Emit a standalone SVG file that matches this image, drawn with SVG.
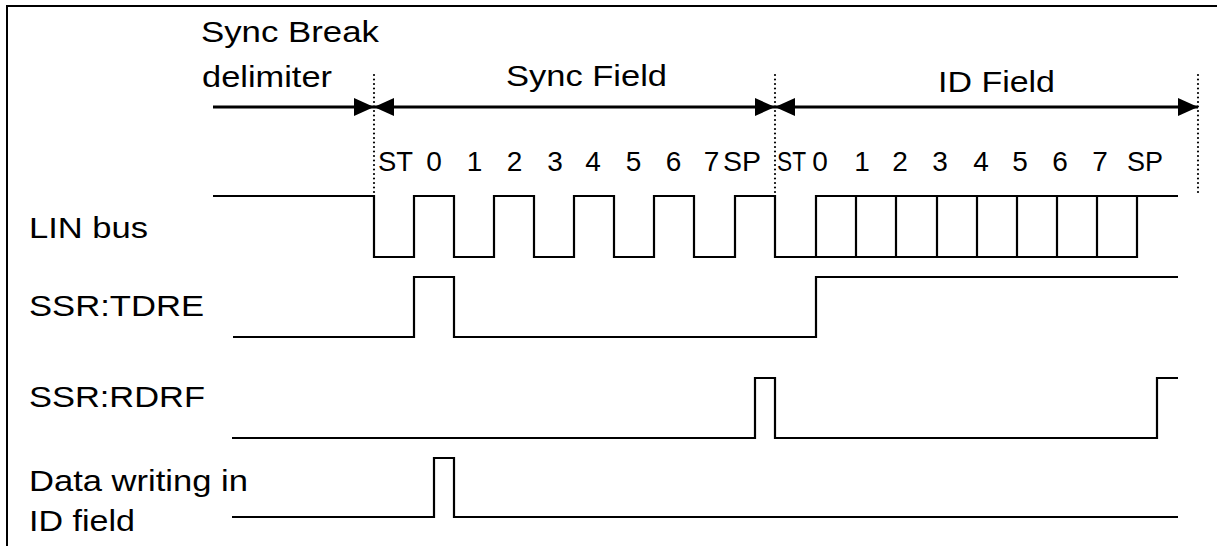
<svg xmlns="http://www.w3.org/2000/svg" width="1217" height="546" viewBox="0 0 1217 546">
<style>
text{font-family:"Liberation Sans",Arial,sans-serif;fill:#000}
.lb{font-size:30px}
.bit{font-size:28px}
.wave{fill:none;stroke:#000;stroke-width:2.2;stroke-linejoin:miter}
.dim{fill:none;stroke:#000;stroke-width:3}
.dot{fill:none;stroke:#000;stroke-width:2.2;stroke-linecap:round;stroke-dasharray:0 4.5}
.frame{fill:none;stroke:#000;stroke-width:2}
</style>
<defs>
<marker id="ah" markerUnits="userSpaceOnUse" markerWidth="20" markerHeight="18" refX="20" refY="9" orient="auto-start-reverse">
<path d="M0,0 L20,9 L0,18 z" fill="#000"/>
</marker>
</defs>
<rect width="1217" height="546" fill="#fff"/>
<g id="frame">
<path class="frame" d="M7,546 V6 H1217"/>
</g>
<g id="header-sync-break">
<text class="lb" x="201" y="42" textLength="178" lengthAdjust="spacingAndGlyphs">Sync Break</text>
<text class="lb" x="202" y="87" textLength="130" lengthAdjust="spacingAndGlyphs">delimiter</text>
</g>
<g id="header-sync-field">
<text class="lb" x="506" y="86" textLength="161" lengthAdjust="spacingAndGlyphs">Sync Field</text>
</g>
<g id="header-id-field">
<text class="lb" x="938" y="92" textLength="117" lengthAdjust="spacingAndGlyphs">ID Field</text>
</g>
<g id="connectors">
<line class="dot" x1="374" y1="75" x2="374" y2="196"/>
<line class="dot" x1="775" y1="75" x2="775" y2="196"/>
<line class="dot" x1="1198" y1="75" x2="1198" y2="196"/>
<line class="dim" x1="213" y1="107" x2="374" y2="107" marker-end="url(#ah)"/>
<line class="dim" x1="374" y1="107" x2="775" y2="107" marker-start="url(#ah)" marker-end="url(#ah)"/>
<line class="dim" x1="775" y1="107" x2="1198" y2="107" marker-start="url(#ah)" marker-end="url(#ah)"/>
</g>
<g id="bits-sync">
<text class="bit" x="378" y="171" textLength="35" lengthAdjust="spacingAndGlyphs">ST</text>
<text class="bit" x="434" y="171" text-anchor="middle">0</text>
<text class="bit" x="474.5" y="171" text-anchor="middle">1</text>
<text class="bit" x="514.5" y="171" text-anchor="middle">2</text>
<text class="bit" x="555" y="171" text-anchor="middle">3</text>
<text class="bit" x="593" y="171" text-anchor="middle">4</text>
<text class="bit" x="633.5" y="171" text-anchor="middle">5</text>
<text class="bit" x="673.5" y="171" text-anchor="middle">6</text>
<text class="bit" x="711.5" y="171" text-anchor="middle">7</text>
<text class="bit" x="723" y="171" textLength="38" lengthAdjust="spacingAndGlyphs">SP</text>
</g>
<g id="bits-id">
<text class="bit" x="777" y="171" textLength="29" lengthAdjust="spacingAndGlyphs">ST</text>
<text class="bit" x="820" y="171" text-anchor="middle">0</text>
<text class="bit" x="862" y="171" text-anchor="middle">1</text>
<text class="bit" x="900" y="171" text-anchor="middle">2</text>
<text class="bit" x="940" y="171" text-anchor="middle">3</text>
<text class="bit" x="981" y="171" text-anchor="middle">4</text>
<text class="bit" x="1020" y="171" text-anchor="middle">5</text>
<text class="bit" x="1060" y="171" text-anchor="middle">6</text>
<text class="bit" x="1100" y="171" text-anchor="middle">7</text>
<text class="bit" x="1127" y="171" textLength="36" lengthAdjust="spacingAndGlyphs">SP</text>
</g>
<g id="lin-bus">
<text class="lb" x="29" y="238" textLength="119" lengthAdjust="spacingAndGlyphs">LIN bus</text>
<path class="wave" d="M213,196 H374 V257 H414 V196 H454 V257 H494 V196 H534 V257 H574 V196 H614 V257 H654 V196 H694 V257 H735 V196 H775 V257 H1137 V196 H1178"/>
<path class="wave" d="M816,257 V196 H1137 M856,196 V257 M896,196 V257 M937,196 V257 M977,196 V257 M1017,196 V257 M1057,196 V257 M1097,196 V257"/>
</g>
<g id="ssr-tdre">
<text class="lb" x="29" y="316" textLength="175" lengthAdjust="spacingAndGlyphs">SSR:TDRE</text>
<path class="wave" d="M233,337 H414 V277 H454 V337 H816 V277 H1178"/>
</g>
<g id="ssr-rdrf">
<text class="lb" x="29" y="407" textLength="176" lengthAdjust="spacingAndGlyphs">SSR:RDRF</text>
<path class="wave" d="M232,438 H755 V378 H775 V438 H1157 V378 H1178"/>
</g>
<g id="data-writing">
<text class="lb" x="29" y="491" textLength="219" lengthAdjust="spacingAndGlyphs">Data writing in</text>
<text class="lb" x="29" y="531" textLength="106" lengthAdjust="spacingAndGlyphs">ID field</text>
<path class="wave" d="M232,517 H434 V458 H454 V517 H1178"/>
</g>
</svg>
